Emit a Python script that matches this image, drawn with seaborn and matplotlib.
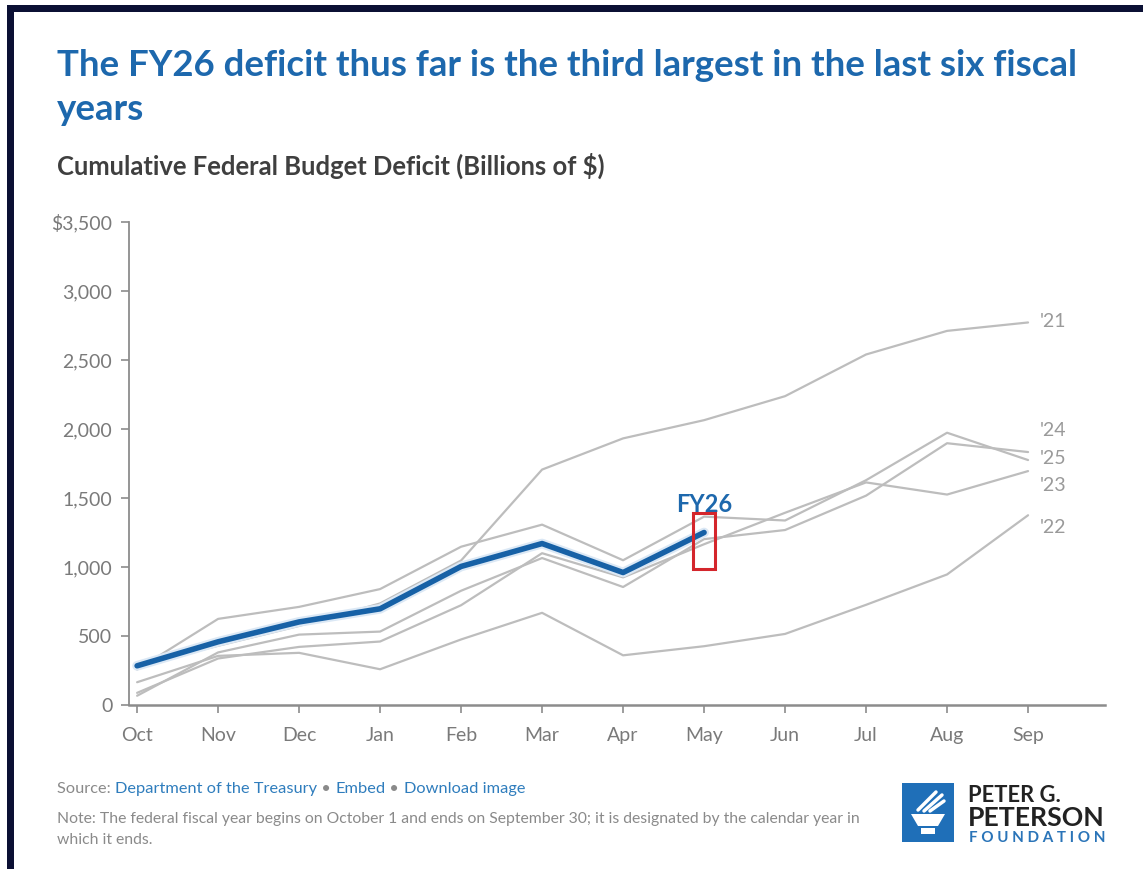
import numpy as np
import pandas as pd
import matplotlib
matplotlib.use("Agg")
import matplotlib.pyplot as plt
import seaborn as sns
from matplotlib import font_manager as fm
from matplotlib.patches import Rectangle, Polygon

# ---------------- data ----------------
months = ['Oct', 'Nov', 'Dec', 'Jan', 'Feb', 'Mar', 'Apr', 'May', 'Jun', 'Jul', 'Aug', 'Sep']
fy21 = [284, 429, 573, 736, 1047, 1706, 1932, 2064, 2238, 2540, 2711, 2772]
fy22 = [165, 356, 378, 259, 475, 668, 360, 426, 515, 726, 946, 1375]
fy23 = [88, 337, 421, 460, 723, 1100, 925, 1165, 1393, 1613, 1525, 1695]
fy24 = [67, 381, 510, 532, 828, 1065, 855, 1202, 1268, 1517, 1897, 1833]
fy25 = [257, 624, 711, 840, 1147, 1307, 1049, 1365, 1337, 1629, 1973, 1775]
fy26 = [284, 458, 602, 697, 1004, 1170, 960, 1250]
past_labels = ["'21", "'22", "'23", "'24", "'25"]
y_ticks = [0, 500, 1000, 1500, 2000, 2500, 3000, 3500]
y_tick_labels = ['0', '500', '1,000', '1,500', '2,000', '2,500', '3,000', '$3,500']

# label positions (y, data units) for the right-hand year labels
label_y = [2781, 1289, 1587, 1987, 1784]

W, H = 1143, 869
sns.set_theme(style='white')
plt.rcParams['font.family'] = ['Lato', 'DejaVu Sans']

names = {f.name for f in fm.fontManager.ttflist}
if 'Liberation Sans Narrow' in names:
    title_family = ['Liberation Sans Narrow', 'Lato']
else:
    title_family = ['Lato', 'DejaVu Sans']

BLUE = '#1d68ad'
LINEBLUE = '#1761a6'
GRAY = '#bdbdbd'
TXTGRAY = '#8a8a8a'
LINKBLUE = '#2f7dbd'

fig = plt.figure(figsize=(W / 100, H / 100), dpi=100)
fig.patch.set_facecolor('white')

def fx(x):
    return x / W

def fy(y):
    return 1 - y / H

ax = fig.add_axes([fx(129), fy(705), fx(1105) - fx(129), fy(222) - fy(705)])
ax.set_facecolor('white')

x = np.arange(len(months))
past = [fy21, fy22, fy23, fy24, fy25]
for vals in past:
    sns.lineplot(x=x, y=vals, ax=ax, color=GRAY, linewidth=1.6, sort=False)
x26 = np.arange(len(fy26))
sns.lineplot(x=x26, y=fy26, ax=ax, color='#dbe8f5', linewidth=7, sort=False,
             solid_capstyle='round')
sns.lineplot(x=x26, y=fy26, ax=ax, color=LINEBLUE, linewidth=4, sort=False,
             solid_capstyle='round')

ax.set_xlim(-0.1, 11.95)
ax.set_ylim(0, 3500)
ax.set_xticks(x)
ax.set_xticklabels(months)
ax.set_yticks(y_ticks)
ax.set_yticklabels(y_tick_labels)
ax.set_xlabel('')
ax.set_ylabel('')
for s in ['top', 'right']:
    ax.spines[s].set_visible(False)
ax.spines['left'].set_color('#8c8c8c')
ax.spines['left'].set_linewidth(1.3)
ax.spines['bottom'].set_color('#8c8c8c')
ax.spines['bottom'].set_linewidth(1.8)
ax.tick_params(axis='both', which='both', length=6, width=1.2, color='#8c8c8c',
               labelcolor='#7a7a7a', labelsize=14)
ax.tick_params(axis='x', pad=10, bottom=True)
ax.tick_params(axis='y', pad=6, left=True)

for lab, ly in zip(past_labels, label_y):
    ax.text(11.15, ly, lab, color='#9a9a9a', fontsize=14, va='center', ha='left')

ax.text(len(fy26) - 1, 1456, 'FY26', color=BLUE, fontsize=17, fontweight='bold',
        ha='center', va='center')
ax.add_patch(Rectangle((6.86, 985), 0.27, 405, fill=False, edgecolor='#d4262c',
                       linewidth=2.2, zorder=5))

# ---------------- texts ----------------
renderer = fig.canvas.get_renderer()

def fit(t, width_px):
    bb = t.get_window_extent(renderer)
    t.set_fontsize(t.get_fontsize() * width_px / bb.width)

t1 = fig.text(fx(57), fy(76), 'The FY26 deficit thus far is the third largest in the last six fiscal',
              color=BLUE, fontsize=26, fontweight='bold', family=title_family, va='baseline')
fit(t1, 1023)
fig.text(fx(57), fy(120), 'years', color=BLUE, fontsize=t1.get_fontsize(), fontweight='bold',
         family=title_family, va='baseline')

t2 = fig.text(fx(57), fy(175), 'Cumulative Federal Budget Deficit (Billions of $)',
              color='#3f3f3f', fontsize=17, fontweight='bold', va='baseline')
fit(t2, 550)

# source line
pieces = [('Source: ', TXTGRAY), ('Department of the Treasury', LINKBLUE), (' • ', TXTGRAY),
          ('Embed', LINKBLUE), (' • ', TXTGRAY), ('Download image', LINKBLUE)]
src_size = 11.8
prev = fig.text(fx(57), fy(796), pieces[0][0], color=pieces[0][1], fontsize=src_size, va='bottom')
for txt, col in pieces[1:]:
    prev = ax.annotate(txt, xy=(1, 0), xycoords=prev, va='bottom', ha='left',
                       color=col, fontsize=src_size, annotation_clip=False)

n1 = fig.text(fx(57), fy(823),
              'Note: The federal fiscal year begins on October 1 and ends on September 30; it is designated by the calendar year in',
              color=TXTGRAY, fontsize=11, va='baseline')
fit(n1, 803)
fig.text(fx(57), fy(844), 'which it ends.', color=TXTGRAY, fontsize=n1.get_fontsize(), va='baseline')

# ---------------- logo ----------------
lx0, lx1, ly0, ly1 = 902, 954, 783, 842
fig.add_artist(Rectangle((fx(lx0), fy(ly1)), fx(lx1) - fx(lx0), fy(ly0) - fy(ly1),
                         transform=fig.transFigure, facecolor='#1f6fb8', edgecolor='none'))
cup = [(911, 814), (945, 814), (938, 826), (918, 826)]
fig.add_artist(Polygon([(fx(a), fy(b)) for a, b in cup], closed=True,
                       transform=fig.transFigure, facecolor='white', edgecolor='none'))
fig.add_artist(Rectangle((fx(921), fy(834)), fx(935) - fx(921), fy(828) - fy(834),
                         transform=fig.transFigure, facecolor='white', edgecolor='none'))
for (xa, ya, xb, yb) in [(918, 810, 936, 792), (924, 811, 942, 795), (930, 811, 944, 801)]:
    fig.add_artist(plt.Line2D([fx(xa), fx(xb)], [fy(ya), fy(yb)], transform=fig.transFigure,
                              color='white', linewidth=2.5, solid_capstyle='round'))

p1 = fig.text(fx(968), fy(802), 'PETER G.', color='#222222', fontsize=15, fontweight='bold',
              family=title_family, va='baseline')
fit(p1, 92)
p2 = fig.text(fx(968), fy(826), 'PETERSON', color='#222222', fontsize=18, fontweight='bold',
              family=title_family, va='baseline')
fit(p2, 137)
p3 = fig.text(fx(969), fy(842), 'F O U N D A T I O N', color='#2a74b8', fontsize=9,
              fontweight='bold', va='baseline')
fit(p3, 136)

# ---------------- frame ----------------
NAVY = '#0b1034'
fig.add_artist(Rectangle((fx(7), fy(12)), 1 - fx(7), fy(5) - fy(12), transform=fig.transFigure,
                         facecolor=NAVY, edgecolor='none'))
fig.add_artist(Rectangle((fx(7), 0), fx(14) - fx(7), fy(5), transform=fig.transFigure,
                         facecolor=NAVY, edgecolor='none'))

fig.savefig('out.png', dpi=100, facecolor='white')
